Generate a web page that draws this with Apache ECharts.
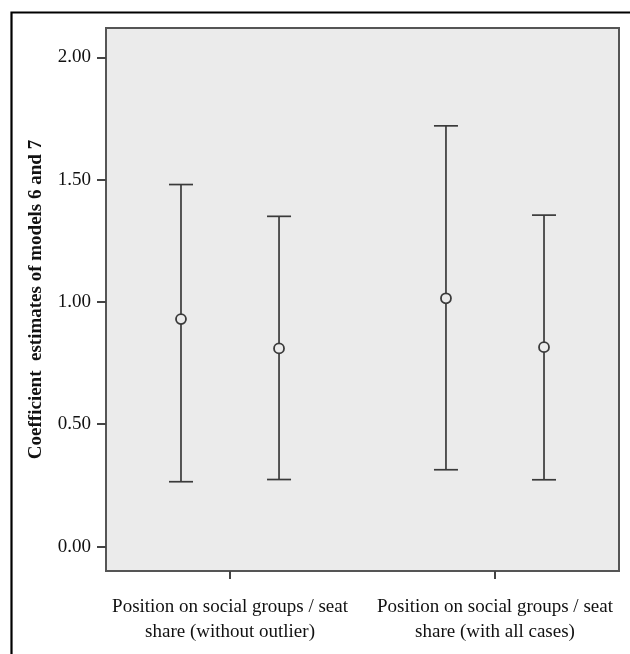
<!DOCTYPE html>
<html>
<head>
<meta charset="utf-8">
<script src="https://cdn.jsdelivr.net/npm/echarts@6/dist/echarts.min.js"></script>
<style>
html,body{margin:0;padding:0;background:#fff;}
#chart{width:630px;height:654px;}
</style>
</head>
<body>
<div id="chart"></div>
<script>
// ---- data ----
const categories = [
  'Position on social groups / seat\nshare (without outlier)',
  'Position on social groups / seat\nshare (with all cases)'
];
const yTickValues = [0, 0.5, 1, 1.5, 2];
// first error bar in each category
const estimateA = [0.93, 1.015];
const lowerA    = [0.265, 0.314];
const upperA    = [1.48, 1.72];
// second error bar in each category
const estimateB = [0.81, 0.815];
const lowerB    = [0.274, 0.273];
const upperB    = [1.35, 1.355];

// ---- build ----
const OFFSET = 0.185;
function buildData(est, lo, hi, side) {
  return categories.map((c, i) => [i + 1 + side * OFFSET, lo[i], est[i], hi[i]]);
}
const lineColor = '#3a3a3a';
function renderItem(params, api) {
  const x = api.value(0);
  const pLo = api.coord([x, api.value(1)]);
  const pMid = api.coord([x, api.value(2)]);
  const pHi = api.coord([x, api.value(3)]);
  const capHalf = 12;
  const st = { stroke: lineColor, lineWidth: 1.7, fill: null };
  return {
    type: 'group',
    children: [
      { type: 'line', shape: { x1: pLo[0], y1: pLo[1], x2: pHi[0], y2: pHi[1] }, style: st },
      { type: 'line', shape: { x1: pLo[0] - capHalf, y1: pLo[1], x2: pLo[0] + capHalf, y2: pLo[1] }, style: st },
      { type: 'line', shape: { x1: pHi[0] - capHalf, y1: pHi[1], x2: pHi[0] + capHalf, y2: pHi[1] }, style: st },
      { type: 'circle', shape: { cx: pMid[0], cy: pMid[1], r: 5 }, style: { stroke: lineColor, lineWidth: 1.8, fill: '#ebebeb' } }
    ]
  };
}

const chart = echarts.init(document.getElementById('chart'), null, { renderer: 'canvas' });
const font = 'Liberation Serif';
chart.setOption({
  animation: false,
  backgroundColor: '#ffffff',
  graphic: [{
    type: 'rect', left: 9, top: 10,
    shape: { x: 0, y: 0, width: 700, height: 700 },
    style: { stroke: '#000', lineWidth: 2.2, fill: null },
    z: 100
  }],
  grid: {
    left: 106, right: 11, top: 28, bottom: 83,
    show: true, backgroundColor: '#ebebeb', borderColor: '#555', borderWidth: 2
  },
  xAxis: {
    type: 'value', min: 0.532, max: 2.468,
    splitLine: { show: false },
    axisLine: { show: true, onZero: false, lineStyle: { color: '#555', width: 2 } },
    axisTick: { show: true, customValues: [1, 2], length: 8, lineStyle: { color: '#444', width: 2 } },
    axisLabel: {
      customValues: [1, 2],
      formatter: v => categories[Math.round(v) - 1] || '',
      fontFamily: font, fontSize: 19, color: '#111', lineHeight: 25, margin: 24
    }
  },
  yAxis: {
    type: 'value', min: -0.1, max: 2.12,
    name: 'Coefficient  estimates of models 6 and 7',
    nameLocation: 'middle', nameGap: 60,
    nameTextStyle: { fontFamily: font, fontSize: 19, fontWeight: 'bold', color: '#111' },
    splitLine: { show: false },
    axisLine: { show: true, onZero: false, lineStyle: { color: '#555', width: 2 } },
    axisTick: { show: true, customValues: yTickValues, length: 9, lineStyle: { color: '#444', width: 2 } },
    axisLabel: {
      customValues: yTickValues,
      formatter: v => v.toFixed(2),
      fontFamily: font, fontSize: 19, color: '#111', margin: 15
    }
  },
  series: [
    { type: 'custom', name: 'A', renderItem, data: buildData(estimateA, lowerA, upperA, -1), encode: { x: 0, y: [1, 2, 3] } },
    { type: 'custom', name: 'B', renderItem, data: buildData(estimateB, lowerB, upperB, 1), encode: { x: 0, y: [1, 2, 3] } }
  ]
});
</script>
</body>
</html>
